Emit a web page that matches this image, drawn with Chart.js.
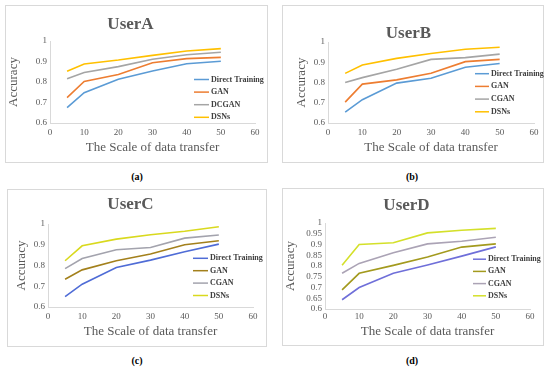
<!DOCTYPE html>
<html>
<head>
<meta charset="utf-8">
<script src="https://cdn.jsdelivr.net/npm/chart.js@4.4.1/dist/chart.umd.min.js"></script>
<style>
  body { margin: 0; background: #fff; width: 550px; height: 368px; position: relative; overflow: hidden; }
  .panel { position: absolute; border: 1px solid #D9D9D9; box-sizing: border-box; }
  .panel canvas { position: absolute; left: 0; top: 0; }
  .cap { position: absolute; font: bold 10px "Liberation Serif", serif; color: #000; transform: translate(-50%, -50%); }
</style>
</head>
<body>
<div class="panel" style="left:5px;top:5px;width:263px;height:158px"><canvas id="cA" width="263" height="158"></canvas></div>
<div class="panel" style="left:282px;top:5px;width:262px;height:158px"><canvas id="cB" width="262" height="158"></canvas></div>
<div class="panel" style="left:7px;top:189px;width:260px;height:158px"><canvas id="cC" width="260" height="158"></canvas></div>
<div class="panel" style="left:282px;top:188px;width:262px;height:158px"><canvas id="cD" width="262" height="158"></canvas></div>
<div class="cap" style="left:137px;top:176px">(a)</div>
<div class="cap" style="left:412px;top:176px">(b)</div>
<div class="cap" style="left:137px;top:360px">(c)</div>
<div class="cap" style="left:412px;top:360px">(d)</div>
<script>
// Accuracy vs. scale of data transfer, four users

const transferScale = [5, 10, 20, 30, 40, 50];

const userA_direct = [0.675, 0.748, 0.813, 0.854, 0.889, 0.901];
const userA_gan    = [0.724, 0.803, 0.837, 0.894, 0.914, 0.920];
const userA_dcgan  = [0.816, 0.846, 0.875, 0.911, 0.933, 0.945];
const userA_dsns   = [0.852, 0.888, 0.907, 0.930, 0.951, 0.963];

const userB_direct = [0.654, 0.715, 0.797, 0.821, 0.875, 0.894];
const userB_gan    = [0.703, 0.792, 0.813, 0.846, 0.903, 0.914];
const userB_cgan   = [0.800, 0.824, 0.865, 0.914, 0.923, 0.940];
const userB_dsns   = [0.845, 0.886, 0.919, 0.943, 0.964, 0.974];

const userC_direct = [0.650, 0.710, 0.790, 0.826, 0.866, 0.903];
const userC_gan    = [0.734, 0.779, 0.823, 0.855, 0.900, 0.919];
const userC_cgan   = [0.785, 0.834, 0.876, 0.887, 0.932, 0.947];
const userC_dsns   = [0.823, 0.895, 0.927, 0.948, 0.965, 0.987];

const userD_direct = [0.643, 0.700, 0.766, 0.805, 0.846, 0.889];
const userD_gan    = [0.689, 0.766, 0.803, 0.842, 0.888, 0.903];
const userD_cgan   = [0.766, 0.812, 0.862, 0.903, 0.915, 0.934];
const userD_dsns   = [0.803, 0.900, 0.908, 0.954, 0.966, 0.975];

const namesA = ['Direct Training', 'GAN', 'DCGAN', 'DSNs'];
const namesBCD = ['Direct Training', 'GAN', 'CGAN', 'DSNs'];

const COLORS_AB = ['#5B9BD5', '#ED7D31', '#A5A5A5', '#FFC000'];
const COLORS_C = ['#4F6CD6', '#A3801C', '#A3A3AD', '#D9D91E'];
const COLORS_D = ['#6F6FD9', '#A39A1E', '#ABA3B5', '#D4E02A'];

const SERIF = '"Liberation Serif", "Times New Roman", serif';
const GREY = '#595959';

// legend drawn inside the plot, like the Excel originals
const insideLegend = {
    id: 'insideLegend',
    afterDatasetsDraw(chart, args, opts) {
        const ctx = chart.ctx;
        ctx.save();
        ctx.font = 'bold 8px ' + SERIF;
        ctx.textBaseline = 'middle';
        chart.data.datasets.forEach((ds, i) => {
            const y = opts.y + i * opts.gap;
            ctx.strokeStyle = ds.borderColor;
            ctx.lineWidth = 1.5;
            ctx.beginPath();
            ctx.moveTo(opts.x, y);
            ctx.lineTo(opts.x + opts.len, y);
            ctx.stroke();
            ctx.fillStyle = '#404040';
            ctx.fillText(ds.label, opts.x + opts.len + 2, y);
        });
        ctx.restore();
    }
};

function fmt(v) {
    return String(Math.round(v * 100) / 100);
}

function renderPanel(id, title, names, series, colors, box) {
    const canvas = document.getElementById(id);
    const W = canvas.width, H = canvas.height;

    const datasets = series.map((vals, i) => ({
        label: names[i],
        data: vals.map((v, j) => ({ x: transferScale[j], y: v })),
        borderColor: colors[i],
        backgroundColor: colors[i],
        borderWidth: 1.6,
        pointRadius: 0,
        tension: 0,
        fill: false
    }));

    return new Chart(canvas, {
        type: 'line',
        data: { datasets },
        options: {
            responsive: false,
            animation: false,
            layout: { padding: { left: 0, top: 0, bottom: 0, right: W - box.r } },
            plugins: {
                legend: { display: false },
                tooltip: { enabled: false },
                title: {
                    display: true,
                    text: title,
                    color: GREY,
                    font: { family: SERIF, size: 17, weight: 'bold', lineHeight: 1.2 },
                    padding: { top: box.titleY - 10.2, bottom: box.t - box.titleY - 10.2 }
                },
                insideLegend: box.legend
            },
            scales: {
                x: {
                    type: 'linear',
                    min: 0,
                    max: 60,
                    grid: { display: false, drawTicks: false },
                    border: { display: true, color: '#D9D9D9', width: 1 },
                    ticks: {
                        stepSize: 10,
                        autoSkip: false,
                        color: GREY,
                        padding: box.xtickY - box.b - 5.4,
                        font: { family: SERIF, size: 9 },
                        callback: v => fmt(v)
                    },
                    title: {
                        display: true,
                        text: 'The Scale of data transfer',
                        color: GREY,
                        font: { family: SERIF, size: 13, lineHeight: 1.2 },
                        padding: { top: 0, bottom: H - box.xtitleY - 7.8 }
                    },
                    afterFit: s => { s.height = H - box.b; }
                },
                y: {
                    min: 0.6,
                    max: 1,
                    grid: { display: false, drawTicks: false },
                    border: { display: true, color: '#D9D9D9', width: 1 },
                    ticks: {
                        stepSize: box.step,
                        autoSkip: false,
                        color: GREY,
                        padding: 3,
                        font: { family: SERIF, size: 9 },
                        callback: v => fmt(v)
                    },
                    title: {
                        display: true,
                        text: 'Accuracy',
                        color: GREY,
                        font: { family: SERIF, size: 13, lineHeight: 1.2 },
                        padding: { top: box.ytitleX - 7.8, bottom: 0 }
                    },
                    afterFit: s => { s.width = box.l; }
                }
            }
        },
        plugins: [insideLegend]
    });
}

renderPanel('cA', 'UserA', namesA,
    [userA_direct, userA_gan, userA_dcgan, userA_dsns], COLORS_AB,
    { l: 44, r: 249, t: 35, b: 117, titleY: 19, ytitleX: 8, xtitleY: 142, xtickY: 127, step: 0.1,
      legend: { x: 188, y: 73.5, len: 15, gap: 12.6 } });

renderPanel('cB', 'UserB', namesBCD,
    [userB_direct, userB_gan, userB_cgan, userB_dsns], COLORS_AB,
    { l: 45, r: 251, t: 36, b: 117, titleY: 28, ytitleX: 19, xtitleY: 142, xtickY: 127, step: 0.1,
      legend: { x: 192, y: 67.7, len: 14, gap: 12.7 } });

renderPanel('cC', 'UserC', namesBCD,
    [userC_direct, userC_gan, userC_cgan, userC_dsns], COLORS_C,
    { l: 40, r: 245, t: 34, b: 117, titleY: 15, ytitleX: 14, xtitleY: 142, xtickY: 127, step: 0.1,
      legend: { x: 185, y: 68.3, len: 15, gap: 12.4 } });

renderPanel('cD', 'UserD', namesBCD,
    [userD_direct, userD_gan, userD_cgan, userD_dsns], COLORS_D,
    { l: 42, r: 247, t: 34, b: 120, titleY: 17, ytitleX: 8, xtitleY: 143, xtickY: 128, step: 0.05,
      legend: { x: 190, y: 70.2, len: 13, gap: 12.2 } });
</script>
</body>
</html>
